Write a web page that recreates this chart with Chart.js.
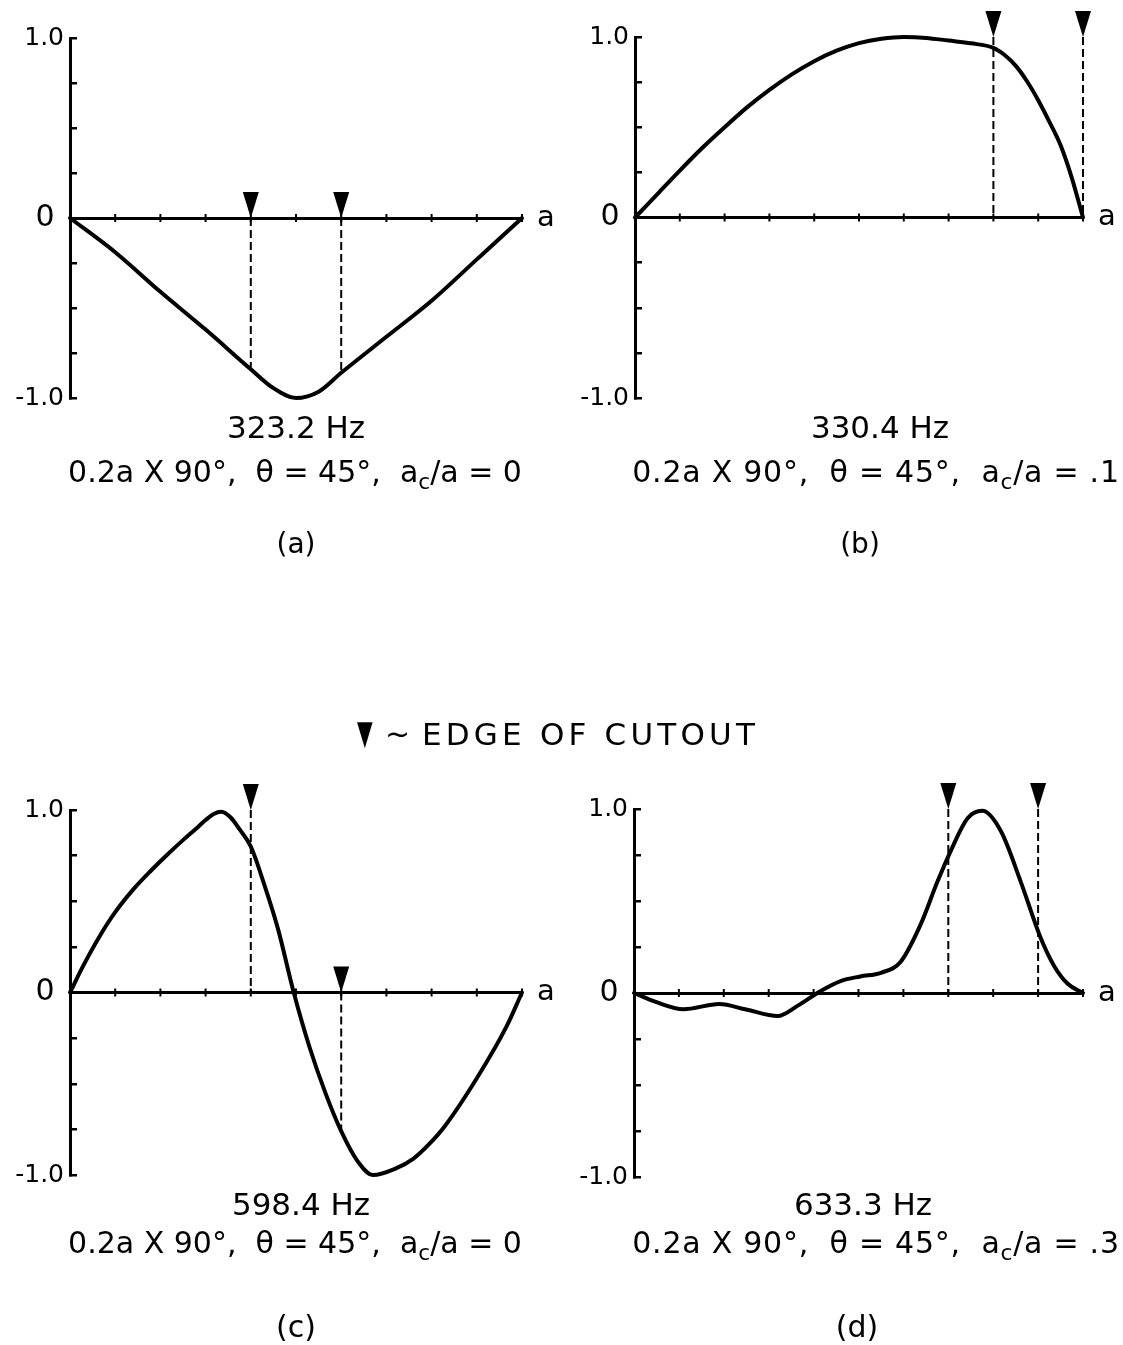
<!DOCTYPE html>
<html>
<head>
<meta charset="utf-8">
<script src="https://cdn.jsdelivr.net/npm/chart.js@4.4.1/dist/chart.umd.min.js"></script>
<style>
html,body{margin:0;padding:0;background:#fff;}
body{width:1123px;height:1345px;position:relative;overflow:hidden;font-family:"DejaVu Sans",sans-serif;color:#000;}
canvas{position:absolute;}
.cap{position:absolute;white-space:pre;transform:translateX(-50%);z-index:2;}
.cap sub{font-size:0.72em;vertical-align:-0.32em;line-height:0;}
.leg{position:absolute;white-space:pre;z-index:2;}
</style>
</head>
<body>
<canvas id="ca" width="561" height="560" style="left:0;top:0"></canvas>
<canvas id="cb" width="562" height="560" style="left:561px;top:0"></canvas>
<canvas id="cc" width="561" height="785" style="left:0;top:560px"></canvas>
<canvas id="cd" width="562" height="785" style="left:561px;top:560px"></canvas>
<script>
// ---------------- data ----------------
const yLabelValues = [-1, 0, 1];
const yLabelTexts  = ['-1.0', '0 ', '1.0'];
const axisEndLabel = 'a';

const freqLabels   = ['323.2 Hz', '330.4 Hz', '598.4 Hz', '633.3 Hz'];
const cutoutRatios = ['0', '.1', '0', '.3'];
const panelTags    = ['(a)', '(b)', '(c)', '(d)'];
const legendSymbol = '\u25BC';
const legendTilde  = '~';
const legendText   = 'EDGE OF CUTOUT';

// (a) 323.2 Hz
const xA = [0, 0.1, 0.2, 0.3, 0.4, 0.45, 0.5, 0.55, 0.6, 0.7, 0.8, 0.9, 1.0];
const yA = [0, -0.19, -0.41, -0.62, -0.84, -0.945, -1.0, -0.965, -0.86, -0.66, -0.46, -0.23, 0];
const cutXA   = [0.4, 0.6];
const cutTipA = [0, 0];
const cutEndA = [-0.83, -0.86];

// (b) 330.4 Hz
const xB = [0, 0.05, 0.1, 0.15, 0.2, 0.25, 0.3, 0.35, 0.4, 0.45, 0.5, 0.55, 0.6, 0.65, 0.7, 0.75, 0.8, 0.825, 0.85, 0.875, 0.9, 0.925, 0.95, 0.975, 1.0];
const yB = [0, 0.13, 0.26, 0.385, 0.5, 0.61, 0.707, 0.793, 0.866, 0.924, 0.966, 0.99, 1.0, 0.995, 0.98, 0.965, 0.94, 0.9, 0.84, 0.755, 0.65, 0.53, 0.4, 0.22, 0];
const cutXB   = [0.8, 1.0];
const cutTipB = [1, 1];
const cutEndB = [0, 0];

// (c) 598.4 Hz
const xC = [0, 0.03, 0.066, 0.1, 0.14, 0.18, 0.215, 0.25, 0.28, 0.3, 0.318, 0.335, 0.355, 0.375, 0.4, 0.43, 0.46, 0.495, 0.53, 0.565, 0.6, 0.635, 0.67, 0.72, 0.76, 0.795, 0.83, 0.9, 0.965, 1.0];
const yC = [0, 0.15, 0.31, 0.44, 0.565, 0.67, 0.755, 0.835, 0.9, 0.945, 0.978, 0.99, 0.96, 0.895, 0.8, 0.59, 0.35, 0, -0.3, -0.55, -0.76, -0.92, -1.0, -0.965, -0.91, -0.83, -0.73, -0.47, -0.19, 0];
const cutXC   = [0.4, 0.6];
const cutTipC = [1, 0];
const cutEndC = [0, -0.76];

// (d) 633.3 Hz
const xD = [0, 0.05, 0.11, 0.19, 0.25, 0.32, 0.364, 0.415, 0.46, 0.504, 0.55, 0.594, 0.638, 0.675, 0.705, 0.743, 0.776, 0.817, 0.862, 0.904, 0.935, 0.966, 1.0];
const yD = [0, -0.05, -0.088, -0.06, -0.09, -0.125, -0.07, 0.01, 0.065, 0.09, 0.11, 0.17, 0.37, 0.6, 0.77, 0.95, 0.99, 0.88, 0.6, 0.31, 0.15, 0.05, 0];
const cutXD   = [0.7, 0.9];
const cutTipD = [1, 1];
const cutEndD = [0, 0];

// ---------------- layout (not data) ----------------
const FONT = '"DejaVu Sans", sans-serif';
Chart.defaults.font.family = FONT;
Chart.defaults.color = '#000';

// cap entries: [centerX, top, fontSize, letterSpacing]
const layouts = [
  {id:'ca', w:561, h:560, left:70, top:38, right:522, bottom:398,
   cap:[[296,412,31,0],[295,457,30,0],[296,530,28,0]]},
  {id:'cb', w:562, h:560, left:74, top:37, right:522, bottom:398,
   cap:[[880,412,31,0],[876,457,30,0.75],[860,530,28,0]]},
  {id:'cc', w:561, h:785, left:70, top:250, right:522, bottom:615,
   cap:[[301,1189,31,0],[295,1228,30,0],[296,1312,30,0]]},
  {id:'cd', w:562, h:785, left:73, top:249, right:522, bottom:617,
   cap:[[863,1189,31,0],[876,1228,30,0.75],[857,1312,30,0]]}
];

function yTickText(v) {
  const i = yLabelValues.indexOf(v);
  return i >= 0 ? yLabelTexts[i] : '';
}

function makePanel(L, xs, ys, cutX, cutTip, cutEnd) {
  const datasets = [{
    data: xs.map((x, i) => ({x, y: ys[i]})),
    borderColor: '#000', borderWidth: 4, pointRadius: 0,
    cubicInterpolationMode: 'monotone', clip: false, fill: false,
    borderCapStyle: 'round', borderJoinStyle: 'round'
  }];
  cutX.forEach((cx, i) => {
    datasets.push({
      data: [{x: cx, y: cutTip[i]}, {x: cx, y: cutEnd[i]}],
      borderColor: '#000', borderWidth: 2, borderDash: [8, 4],
      pointRadius: 0, tension: 0, clip: false, fill: false
    });
  });
  const marks = {
    id: 'marks' + L.id,
    afterDatasetsDraw(chart) {
      const {ctx, scales: {x, y}} = chart;
      const y0 = y.getPixelForValue(0);
      ctx.save();
      ctx.strokeStyle = '#000';
      ctx.lineWidth = 2;
      x.ticks.forEach(t => {
        if (t.value <= 0) return;
        const px = x.getPixelForValue(t.value);
        ctx.beginPath(); ctx.moveTo(px, y0 - 4); ctx.lineTo(px, y0 + 4); ctx.stroke();
      });
      ctx.fillStyle = '#000';
      cutX.forEach((cx, i) => {
        const px = x.getPixelForValue(cx);
        const py = y.getPixelForValue(cutTip[i]);
        ctx.beginPath();
        ctx.moveTo(px - 8, py - 26);
        ctx.lineTo(px + 8, py - 26);
        ctx.lineTo(px, py);
        ctx.closePath();
        ctx.fill();
      });
      ctx.font = '29px ' + FONT;
      ctx.textAlign = 'center';
      ctx.textBaseline = 'middle';
      ctx.fillText(axisEndLabel, x.getPixelForValue(1) + 24, y0);
      ctx.restore();
    }
  };
  new Chart(document.getElementById(L.id), {
    type: 'line',
    data: {datasets},
    plugins: [marks],
    options: {
      responsive: false, animation: false, events: [],
      layout: {padding: {left: 0, top: L.top, right: L.w - L.right, bottom: L.h - L.bottom}},
      plugins: {legend: {display: false}, tooltip: {enabled: false}},
      scales: {
        x: {
          type: 'linear', min: 0, max: 1, position: {y: 0},
          ticks: {display: false, stepSize: 0.1},
          grid: {display: false},
          border: {display: true, color: '#000', width: 3},
          afterFit(s) { s.height = 0; }
        },
        y: {
          type: 'linear', min: -1, max: 1,
          ticks: {
            stepSize: 0.25, padding: 13, autoSkip: false, color: '#000',
            callback: v => yTickText(v),
            font: ctx => ({family: FONT, size: (ctx.tick && ctx.tick.value === 0) ? 30 : 25})
          },
          grid: {drawOnChartArea: false, drawTicks: true, tickLength: -7, color: '#000', lineWidth: 2.5},
          border: {display: true, color: '#000', width: 3},
          afterFit(s) { s.width = L.left; }
        }
      }
    }
  });
}

makePanel(layouts[0], xA, yA, cutXA, cutTipA, cutEndA);
makePanel(layouts[1], xB, yB, cutXB, cutTipB, cutEndB);
makePanel(layouts[2], xC, yC, cutXC, cutTipC, cutEndC);
makePanel(layouts[3], xD, yD, cutXD, cutTipD, cutEndD);

// captions
layouts.forEach((L, i) => {
  L.cap.forEach((c, k) => {
    const d = document.createElement('div');
    d.className = 'cap';
    d.style.left = c[0] + 'px';
    d.style.top = c[1] + 'px';
    d.style.fontSize = c[2] + 'px';
    d.style.lineHeight = c[2] + 'px';
    d.style.letterSpacing = c[3] + 'px';
    if (k === 0) {
      d.textContent = freqLabels[i];
    } else if (k === 1) {
      d.innerHTML = '0.2a X 90\u00B0,  \u03B8 = 45\u00B0,  a<sub>c</sub>/a = ' + cutoutRatios[i];
    } else {
      d.textContent = panelTags[i];
    }
    document.body.appendChild(d);
  });
});

// legend
(function () {
  const tri = document.createElement('div');
  tri.className = 'leg';
  tri.textContent = legendSymbol;
  tri.style.cssText = 'left:357px;top:715px;font-size:34px;line-height:34px;transform:scaleX(0.6);transform-origin:left top;';
  document.body.appendChild(tri);
  const til = document.createElement('div');
  til.className = 'leg';
  til.textContent = legendTilde;
  til.style.cssText = 'left:385px;top:719px;font-size:30px;line-height:30px;';
  document.body.appendChild(til);
  const txt = document.createElement('div');
  txt.className = 'leg';
  txt.textContent = legendText;
  txt.style.cssText = 'left:422px;top:719px;font-size:31px;line-height:31px;letter-spacing:4.2px;';
  document.body.appendChild(txt);
})();
</script>
</body>
</html>
